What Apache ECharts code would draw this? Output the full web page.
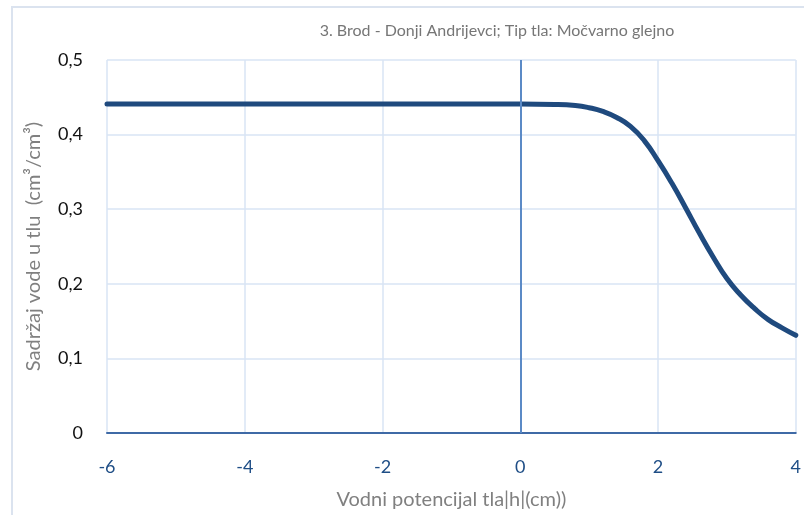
<!DOCTYPE html>
<html>
<head>
<meta charset="utf-8">
<script src="https://cdn.jsdelivr.net/npm/echarts@6/dist/echarts.min.js"></script>
<style>
	html, body { margin: 0; padding: 0; background: #fff; }
	#chart { width: 804px; height: 515px; }
</style>
</head>
<body>
<div id="chart"></div>
<script>
// values
var hValues = [-6, -4, -2, 0, 0.5, 0.8, 1.0, 1.2, 1.4, 1.6, 1.8, 2.0, 2.2, 2.4, 2.6, 2.8, 3.0, 3.2, 3.4, 3.6, 3.8, 4.0];
var thetaValues = [0.441, 0.441, 0.441, 0.441, 0.4405, 0.439, 0.436, 0.431, 0.423, 0.411, 0.392, 0.365, 0.335, 0.302, 0.268, 0.236, 0.207, 0.185, 0.167, 0.152, 0.141, 0.131];
var xTicks = [-6, 4, 2];   // min, max, interval
var yTicks = [0, 0.5, 0.1];

var titleText = '3. Brod - Donji Andrijevci; Tip tla: Močvarno glejno';
var xName = 'Vodni potencijal tla|h|(cm))';
var yName = 'Sadržaj vode u tlu  (cm³/cm³)';

var fontFam = 'Lato';
var gridColor = '#d9e4f4';

var seriesData = hValues.map(function (h, i) { return [h, thetaValues[i]]; });

echarts.init(document.getElementById('chart')).setOption({
	animation: false,
	textStyle: { fontFamily: fontFam },
	graphic: [
		{
			type: 'rect',
			shape: { x: 12, y: 7, width: 820, height: 530 },
			style: { fill: 'none', stroke: '#dbe3ef', lineWidth: 2 },
			silent: true
		}
	],
	title: {
		text: titleText,
		left: 492,
		top: 18,
		textAlign: 'center',
		textStyle: { fontFamily: fontFam, fontSize: 16, fontWeight: 'normal', color: '#767676' }
	},
	grid: { left: 107, right: 8, top: 60, bottom: 80 },
	xAxis: {
		type: 'value',
		min: xTicks[0],
		max: xTicks[1],
		interval: xTicks[2],
		name: xName,
		nameLocation: 'middle',
		nameGap: 57,
		nameTextStyle: { fontFamily: fontFam, fontSize: 20, color: '#808080' },
		axisLine: { show: true, onZero: false, lineStyle: { color: '#3f6aa6', width: 2 } },
		axisTick: { show: false },
		axisLabel: { fontFamily: fontFam, fontSize: 18, color: '#1f4e86', margin: 25 },
		splitLine: { show: true, lineStyle: { color: gridColor, width: 1.5 } }
	},
	yAxis: {
		type: 'value',
		min: yTicks[0],
		max: yTicks[1],
		interval: yTicks[2],
		name: yName,
		nameLocation: 'middle',
		nameGap: 63,
		nameTextStyle: { fontFamily: fontFam, fontSize: 20, color: '#808080' },
		axisLine: { show: false },
		axisTick: { show: false },
		axisLabel: {
			fontFamily: fontFam, fontSize: 18, color: '#111', margin: 24,
			formatter: function (v) { return v === 0 ? '0' : v.toFixed(1).replace('.', ','); }
		},
		splitLine: { show: true, lineStyle: { color: gridColor, width: 1.5 } }
	},
	series: [
		{
			type: 'line',
			data: seriesData,
			smooth: true,
			showSymbol: false,
			lineStyle: { color: '#1f4a7e', width: 5, cap: 'round' },
			markLine: {
				silent: true,
				symbol: ['none', 'none'],
				label: { show: false },
				lineStyle: { color: '#5b8ac6', width: 2, type: 'solid' },
				data: [{ xAxis: 0 }]
			},
			z: 3
		}
	]
});
</script>
</body>
</html>
